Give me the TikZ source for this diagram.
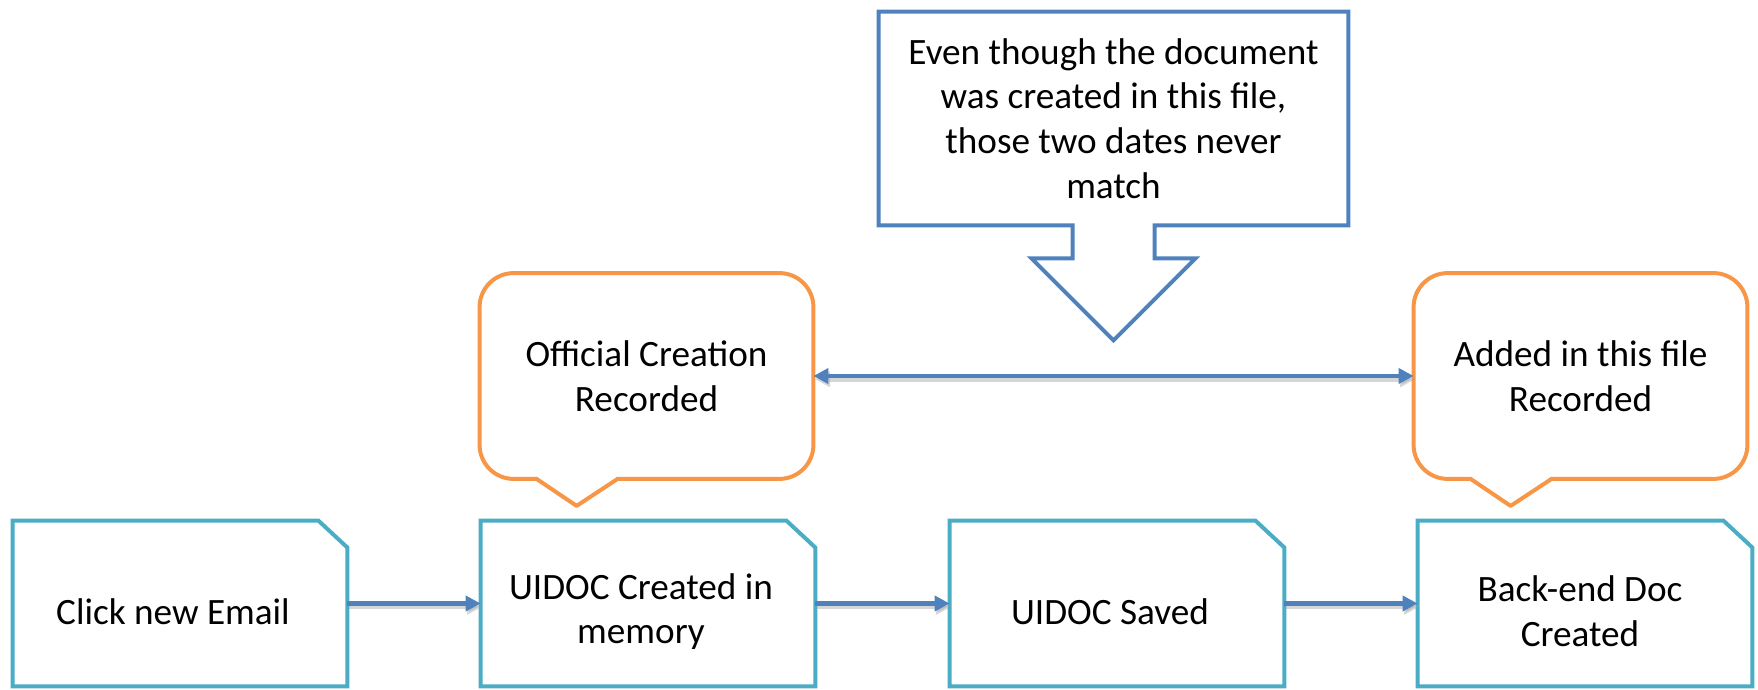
\documentclass[tikz,border=0pt]{standalone}
\usepackage{fontspec}
\setmainfont{Carlito}
\usetikzlibrary{arrows.meta,calc}
\definecolor{tealc}{HTML}{4BACC6}
\definecolor{orangec}{HTML}{F79646}
\definecolor{bluec}{HTML}{4F81BD}
\newcommand\snipbox[1]{\draw[boxline] (#1.north west) -- ($(#1.north east)+(-29,0)$) -- ($(#1.north east)+(0,27)$) -- (#1.south east) -- (#1.south west) -- cycle;}
\newcommand\calloutshape[1]{%
  \draw[callline, rounded corners=17pt] ($(#1.south west)+(138,0)$) -- (#1.south east) -- (#1.north east) -- (#1.north west) -- (#1.south west) -- ($(#1.south west)+(57,0)$);
  \draw[callline] ($(#1.south west)+(57,0)$) -- ($(#1.south west)+(97,27)$) -- ($(#1.south west)+(138,0)$);}
\begin{document}
\begin{tikzpicture}[x=0.5pt,y=-0.5pt,
  every node/.style={font=\fontsize{18.6}{22.4}\selectfont, text=black, align=center, inner sep=0pt},
  boxarea/.style={minimum width=167pt, minimum height=82.5pt},
  callarea/.style={minimum width=166.5pt, minimum height=102.5pt},
  notearea/.style={minimum width=234.5pt, minimum height=106.5pt},
  boxline/.style={draw=tealc, line width=2pt, line join=miter},
  callline/.style={draw=orangec, line width=2pt, line cap=round, line join=round},
  noteline/.style={draw=bluec, line width=2pt, line join=miter},
  conn/.style={draw=bluec, line width=2.2pt, -{Triangle[length=7.5pt,width=7.5pt]},
    preaction={draw=black!40, opacity=0.4, line width=2.6pt, transform canvas={shift={(0.8pt,-1.6pt)}}}},
  dconn/.style={conn, {Triangle[length=7.5pt,width=7.5pt]}-{Triangle[length=7.5pt,width=7.5pt]}}
]
\useasboundingbox (0,0) rectangle (1758,690);

% bottom process boxes
\node[boxarea] (b1) at (180,603.5) {};
\node[boxarea] (b2) at (648,603.5) {};
\node[boxarea] (b3) at (1117,603.5) {};
\node[boxarea] (b4) at (1585,603.5) {};
\snipbox{b1}
\snipbox{b2}
\snipbox{b3}
\snipbox{b4}
\node (t1) at ($(b1.center)+(-7,8)$) {Click new Email};
\node (t2) at ($(b2.center)+(-7,8)$) {UIDOC Created in\\memory};
\node (t3) at ($(b3.center)+(-7,8)$) {UIDOC Saved};
\node (t4) at ($(b4.center)+(-5,8)$) {Back-end Doc\\Created};

% callouts
\node[callarea] (c1) at (646.5,376) {Official Creation\\Recorded};
\node[callarea] (c2) at (1580.5,376) {Added in this file\\Recorded};
\calloutshape{c1}
\calloutshape{c2}

% note with down arrow
\node[notearea] (n) at (1113.5,118.5) {Even though the document\\was created in this file,\\those two dates never\\match};
\draw[noteline] (n.north west) -- (n.north east) -- (n.south east)
  -- ($(n.south)+(41,0)$) -- ($(n.south)+(41,33)$) -- ($(n.south)+(82,33)$)
  -- ($(n.south)+(0,115)$) -- ($(n.south)+(-82,33)$) -- ($(n.south)+(-41,33)$)
  -- ($(n.south)+(-41,0)$) -- (n.south west) -- cycle;

% connectors
\draw[conn] (b1.east) -- (b2.west);
\draw[conn] (b2.east) -- (b3.west);
\draw[conn] (b3.east) -- (b4.west);
\draw[dconn] (c1.east) -- (c2.west);
\end{tikzpicture}
\end{document}
